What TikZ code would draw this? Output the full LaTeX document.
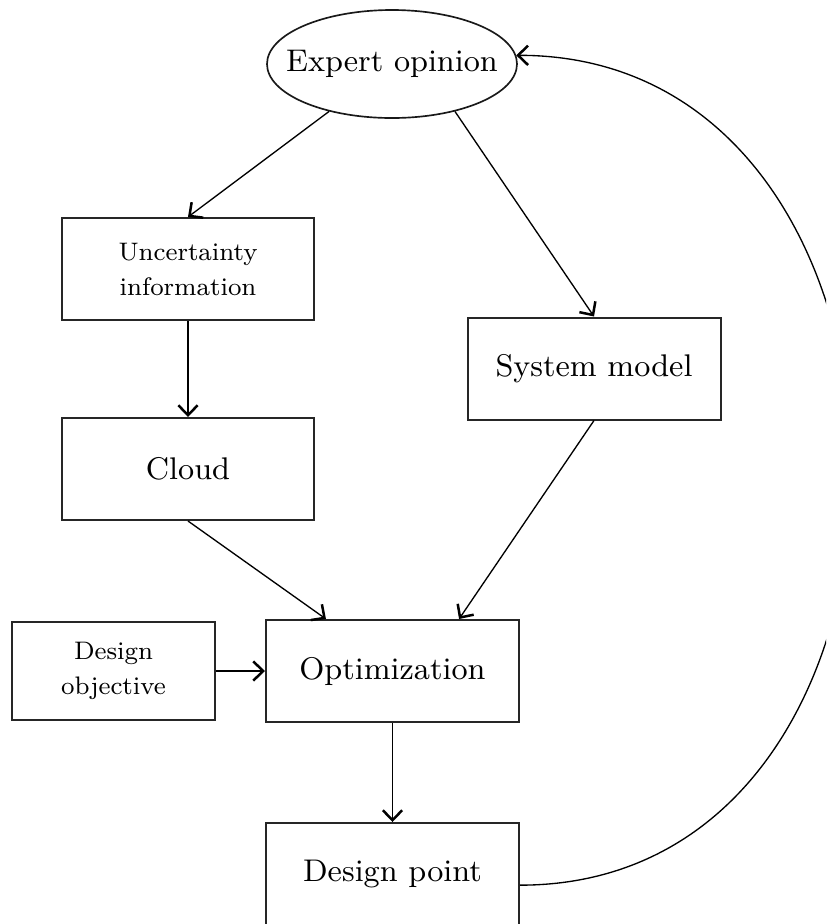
\documentclass[tikz,border=0pt]{standalone}
\usetikzlibrary{arrows.meta,shapes.geometric}
\begin{document}
\begin{tikzpicture}[x=0.3pt,y=-0.3pt,
  box/.style={draw=black!85, line width=0.6pt, rectangle, minimum width=75.9pt, minimum height=30.6pt, inner sep=0pt, align=center},
  bigtext/.style={font=\fontsize{9.4}{11.5}\selectfont},
  smalltext/.style={font=\fontsize{7.6}{10.5}\selectfont},
  conn/.style={line width=0.4pt, -{Straight Barb[length=3pt,width=5.8pt,line width=0.75pt]}}]
\useasboundingbox (0,0) rectangle (826,924);
\clip (0,0) rectangle (826,924);
\node[ellipse, draw=black!90, line width=0.5pt, minimum width=75pt, minimum height=32.4pt, inner sep=0pt, bigtext] (eo) at (392,64) {\makebox[0pt]{Expert opinion}};
\node[box, smalltext] (unc) at (188,269) {Uncertainty\\information};
\node[box, bigtext] (sys) at (594,368.5) {System model};
\node[box, bigtext] (cloud) at (188,469) {Cloud};
\node[box, bigtext] (opt) at (392.5,671) {Optimization};
\node[box, smalltext, minimum width=60.9pt, minimum height=29.4pt] (dobj) at (113.5,671) {Design\\objective};
\node[box, bigtext] (dp) at (392.5,874) {Design point};
\draw[conn] (eo.-143) -- (unc.north);
\draw[conn] (eo.-37) -- (sys.north);
\draw[conn] (unc.south) -- (cloud.north);
\draw[conn] (cloud.south) -- (opt.142);
\draw[conn] (sys.south) -- (opt.38);
\draw[conn] (dobj.east) -- (opt.west);
\draw[conn] (opt.south) -- (dp.north);
\draw[conn] (dp.-5) .. controls +(445,0) and +(445,0) .. (eo.4);
\end{tikzpicture}
\end{document}
